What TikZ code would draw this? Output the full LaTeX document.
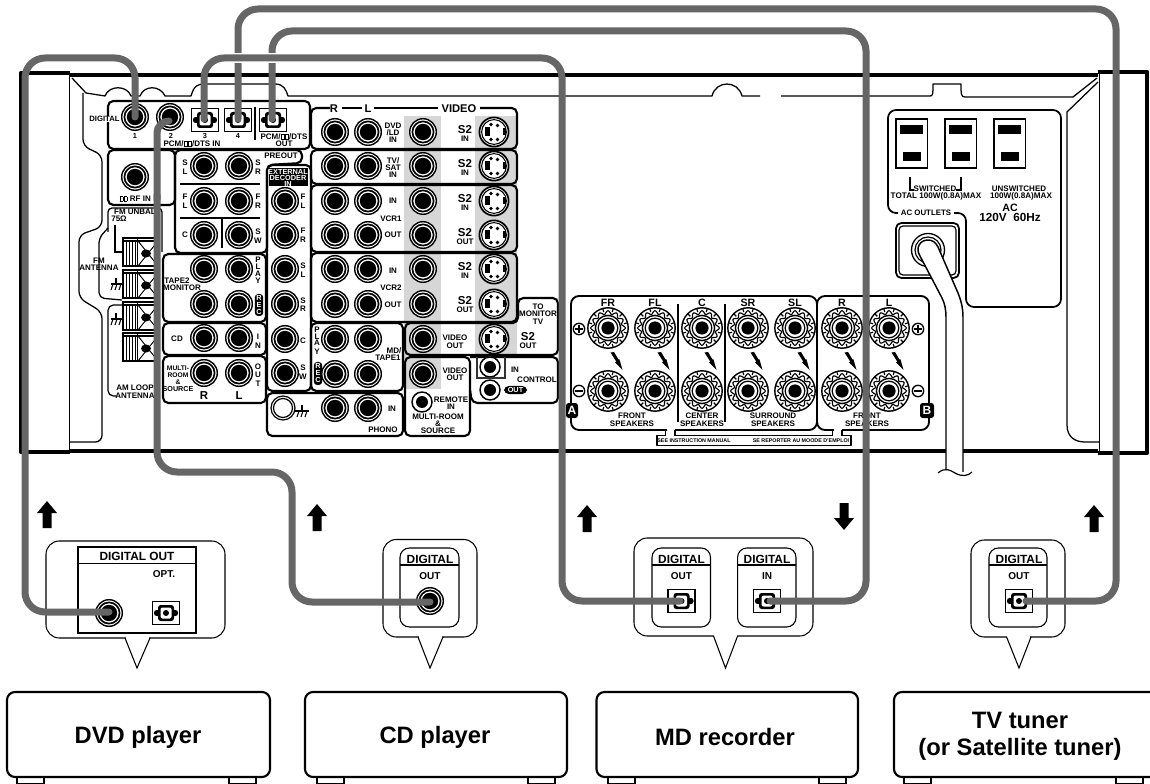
\documentclass[tikz,border=0pt]{standalone}
\usepackage{fontspec}
\setmainfont{Liberation Sans}
\newcounter{tc}
\tikzset{
  lab/.style={inner sep=0pt,outer sep=0pt,anchor=center,text=black},
  pb/.style={draw=black,line width=1.6pt,rounded corners=4pt},
  thin1/.style={draw=black,line width=0.95pt},
  bubble/.style={draw=black,line width=0.8pt,rounded corners=10pt,fill=white},
  inbox/.style={draw=black,line width=0.8pt,rounded corners=7pt,fill=white},
  dev/.style={draw=black,line width=1.6pt,rounded corners=6pt,fill=white},
  cable/.style={draw=cablegray,line width=5.25pt,rounded corners=15pt,line cap=round},
  arr/.style={fill=black,draw=none},
}
\definecolor{cablegray}{HTML}{666666}
\definecolor{bargray}{HTML}{D6D6D6}
% text: optional size in pt
\newcommand{\tx}[4][6]{\stepcounter{tc}\node[lab,font=\fontsize{#1}{#1}\selectfont\bfseries] (t\arabic{tc}) at (#2,#3) {#4};}
\newcommand{\txf}[4][6]{\stepcounter{tc}\node[lab,fill=white,font=\fontsize{#1}{#1}\selectfont\bfseries] (t\arabic{tc}) at (#2,#3) {#4};}
\newcommand{\txw}[4][5.5]{\stepcounter{tc}\node[lab,text=white,font=\fontsize{#1}{#1}\selectfont\bfseries] (t\arabic{tc}) at (#2,#3) {#4};}
\newcommand{\ddb}{\vbox{\hrule height.5pt\hbox{\vrule width.5pt height3.1pt\kern1.7pt\vrule width.5pt}\hrule height.5pt}}
\newcommand{\dd}{\kern.3pt\ddb\kern.4pt\ddb\kern.3pt}
\newcommand{\jk}[2]{\fill[white] (#1,#2) circle[radius=14];
  \draw[line width=1.05pt] (#1,#2) circle[radius=13.3];
  \draw[line width=1.25pt] (#1,#2) circle[radius=10.6];
  \fill[black] (#1,#2) circle[radius=8.2];}
\newcommand{\sjk}[2]{\fill[white] (#1,#2) circle[radius=10.5];
  \draw[line width=1.1pt] (#1,#2) circle[radius=10];
  \fill[black] (#1,#2) circle[radius=6];}
\newcommand{\svid}[2]{\begin{scope}[shift={(#1,#2)}]
  \fill[white] (0,0) circle[radius=15];
  \draw[line width=1.3pt] (0,0) circle[radius=14.6];
  \draw[line width=.8pt] (0,0) circle[radius=12.4];
  \fill (-9,-4.5) rectangle (-4,4.5);
  \fill (9,-3.5) rectangle (12,3.5);
  \foreach \a/\b in {-3/-7.5,3.5/-6.5,-3/7.5,3.5/7.5}{\fill (\a,\b) circle[radius=1.9];}
\end{scope}}
\newcommand{\opt}[3][0]{\begin{scope}[shift={(#2,#3)},rotate=#1]
  \draw[line width=1.1pt,fill=white] (-13.5,-11.5) rectangle (13.5,11.5);
  \fill[rounded corners=2pt] (-8,-8) rectangle (8,8);
  \fill (-9,0) circle[radius=3.2];
  \fill (9,0) circle[radius=3.2];
  \fill[white,rounded corners=1.5pt] (-5.5,-5.5) rectangle (5.5,5.5);
  \fill (0,0) circle[radius=3];
\end{scope}}
\newcommand{\spk}[2]{\begin{scope}[shift={(#1,#2)}]
  \draw[line width=1.05pt,fill=white] (0,0) circle[radius=20.2];
  \draw[line width=.85pt] plot[domain=0:360,samples=97,smooth] (\x:{15.6+1.7*cos(12*\x)});
  \foreach \a in {0,30,...,330}{\draw[line width=.9pt] (\a+15:16.5) -- (\a+15:19.5);}
  \draw[line width=1.05pt,fill=white] (0,0) circle[radius=12.6];
  \draw[line width=.9pt] (0,0) circle[radius=9.8];
  \fill (0,0) circle[radius=6.6];
\end{scope}}
\newcommand{\bolt}[2]{\fill[shift={(#1,#2)}] (-5.5,-8.5)--(-2,-9)--(2.5,-1.5)--(3.5,-1.5)--(6.5,9)--(-1,1.5)--(.2,.5)--cycle;}
\newcommand{\gnd}[2]{\begin{scope}[shift={(#1,#2)},line width=.8pt]
  \draw (0,-5) -- (0,1); \draw (-5,1) -- (7,1);
  \draw (-3,1)--(-5,7); \draw (1,1)--(-1,7); \draw (5,1)--(3,7);
\end{scope}}
\newcommand{\term}[1]{\begin{scope}[shift={(0,#1)}]
  \draw[line width=.9pt,fill=white] (123,-14) rectangle (158,14);
  \foreach \a in {126,129,132,135}{\draw[line width=.7pt] (\a,-11) -- (\a,14);}
  \draw[line width=.9pt] (123,-11) -- (158,-11);
  \draw[line width=1pt] (137.5,-14) -- (137.5,14);
  \draw[line width=.7pt] (138,-11) -- (158,14); \draw[line width=.7pt] (158,-11) -- (138,14);
  \fill (146,1.5) ellipse[x radius=5,y radius=4];
\end{scope}}
\newcommand{\rec}[3]{\fill[rounded corners=2.5pt] (#1-4.2,#2) rectangle (#1+4.2,#3);}
\newcommand{\uparr}[2]{\fill[arr,shift={(#1,#2)}] (0,0)--(10,12)--(4.5,12)--(4.5,27)--(-4.5,27)--(-4.5,12)--(-10,12)--cycle;}
\newcommand{\dnarr}[2]{\fill[arr,shift={(#1,#2)}] (0,27)--(10,15)--(4.5,15)--(4.5,0)--(-4.5,0)--(-4.5,15)--(-10,15)--cycle;}
\begin{document}
\begin{tikzpicture}[x=.75pt,y=-.75pt]
\useasboundingbox (0,0) rectangle (1150,784);
\clip (0,0) rectangle (1150,784);
\fill[white] (0,0) rectangle (1150,784);
% ---------- chassis
\draw[line width=3pt] (70,75.5) -- (1098,75.5);
\draw[line width=3pt] (70,450.5) -- (1098,450.5);
\draw[line width=3.2pt,line join=round] (70,73) -- (21,73) -- (21,452) -- (70,452);
\draw[line width=3.2pt,line join=round] (1098,72) -- (1147,72) -- (1147,453) -- (1098,453);
\draw[line width=.9pt] (69.5,73) -- (69.5,452);
\draw[line width=.9pt] (1099.5,72) -- (1099.5,453);
% inner outline
\draw[thin1,line join=round] (72,78) -- (86,93) -- (105,96) .. controls (109,85) and (127,85) .. (131,96) -- (140,96) .. controls (144,85) and (160,85) .. (165,96) -- (191,96) .. controls (194,86) and (197,84) .. (205,84) -- (275,84) .. controls (284,84) and (286,90) .. (288,96) -- (712,96) .. controls (716,80) and (738,80) .. (742,96) -- (760,96);
\draw[thin1,line join=round] (781,96) -- (930,96) .. controls (933,96) and (933,94) .. (933,84) -- (961,84) .. controls (961,94) and (961,97) .. (965,97) -- (1073,97) -- (1097,78);
\draw[thin1] (1098,82) -- (1067,112) -- (1067,425) .. controls (1067,437) and (1075,442) .. (1085,442) -- (1099,442);
\draw[thin1,rounded corners=5pt] (83,93) -- (83,146) -- (102,155) -- (102,227) -- (79,235) -- (79,298) -- (102,312) -- (102,442) -- (70,442);
% ---------- grey video bars
\fill[bargray] (404,116) rectangle (441,389);
\fill[bargray] (475,116) rectangle (517,355);
% ---------- panel boxes
\draw[pb] (108,149) -- (108,101) -- (310,101) -- (310,149) -- cycle;
\draw[line width=1pt] (255,107) -- (255,140);
\draw[pb] (108,150) rectangle (175,205);
\draw[pb] (175,150) -- (302,150) -- (302,163) -- (267,165) -- (267,253) -- (175,253) -- cycle;
\draw[line width=1.1pt] (180,184) -- (260,184);
\draw[line width=1.1pt] (180,218) -- (260,218);
\draw[line width=1.1pt] (222,218) -- (222,248);
\draw[pb] (267,165) rectangle (311,391);
\draw[pb] (163,254) rectangle (266,322);
\draw[pb] (163,323) rectangle (266,355);
\draw[pb] (163,356) rectangle (266,403);
\draw[pb] (330,108) -- (311,108) -- (311,149) -- (517,149) -- (517,108) -- (480,108);
\draw[line width=1.6pt] (342,108) -- (362,108);
\draw[line width=1.6pt] (374,108) -- (438,108);
\draw[pb] (311,150) rectangle (517,184);
\draw[pb] (311,185) rectangle (517,252);
\draw[pb] (311,253) rectangle (517,322);
\draw[pb] (311,323) rectangle (403,391);
\draw[pb] (267,393) rectangle (403,436);
\draw[pb] (405,323) -- (518,323) -- (518,298) -- (558,298) -- (558,355) -- (405,355) -- cycle;
\draw[pb] (405,357) rectangle (470,436);
\draw[pb] (470,357) -- (558,357) -- (558,403) -- (472,403) -- (470,390);
% FM / AM
\draw[thin1,rounded corners=3pt] (108,232) -- (108,208) -- (162,208) -- (162,252);
\draw[thin1,rounded corners=4pt] (108,228) -- (99,238) -- (99,298) -- (122,300);
\draw[thin1,rounded corners=4pt] (122,305) -- (108,305) -- (108,396) -- (116,396);
\draw[thin1] (115,225) -- (115,252) -- (123,252);
\term{252}\term{284}\term{316}\term{347}
\gnd{116}{283}\gnd{116}{318}
% ---------- jacks
\jk{135}{177}
\jk{135}{117}\jk{170}{117}
\opt{205}{120}\opt{238}{120}\opt{273}{120}
\foreach \a/\b in {204/166,239/166,204/201,239/201,204/235,239/235,204/269,239/269,204/304,239/304,204/338,239/338,204/373,239/373}{\jk{\a}{\b}}
\foreach \b in {201,235,269,304,339,373}{\jk{285}{\b}}
\foreach \b in {132,166,201,235,269,304,339,374,408}{\jk{335}{\b}\jk{368}{\b}}
\foreach \b in {132,166,201,235,269,304,339,374}{\jk{423}{\b}}
\foreach \b in {132,166,201,235,269,304,339}{\svid{494}{\b}}
\sjk{490}{367}\sjk{490}{390}\sjk{422}{402}
\draw[line width=1.4pt,draw=black!80] (477,357) -- (477,378) -- (505,378) -- (505,357);
\fill[white] (283,408) circle[radius=12.5];
\draw[line width=.9pt] (283,408) circle[radius=12]; \draw[line width=.9pt] (283,408) circle[radius=9.5];
\draw[line width=.8pt] (295,411) -- (305,411);
\gnd{302}{410}
% ---------- speakers
\draw[pb,line width=1.4pt,rounded corners=6pt] (571,296) rectangle (817,430);
\draw[pb,line width=1.4pt,rounded corners=6pt] (817,296) rectangle (929,430);
\draw[line width=1pt] (678,304) -- (678,422);
\draw[line width=1pt] (725,304) -- (725,422);
\foreach \a in {608,655,702,748,795,842,889}{\spk{\a}{328}\spk{\a}{391}\bolt{\a+8}{361}}
\foreach \a in {579,918}{
 \draw[line width=1pt] (\a,329) circle[radius=5.7];
 \draw[line width=1.2pt] (\a-4,329) -- (\a+4,329); \draw[line width=1.2pt] (\a,325) -- (\a,333);
 \draw[line width=1pt] (\a,391) circle[radius=5.7];
 \draw[line width=2pt] (\a-4,391) -- (\a+4,391);}
\fill[rounded corners=2pt] (566,403) rectangle (578,418); \txw[9]{572}{410.5}{A}
\fill[rounded corners=2pt] (920,403) rectangle (934,418); \txw[9]{927}{410.5}{B}
\fill[white] (666.5,428) rectangle (674.5,432);
\fill[white] (833.5,428) rectangle (841.5,432);
\draw[line width=1.3pt,line join=round] (665.5,430) -- (665.5,435.5) -- (657,435.5) -- (657,445.5) -- (851,445.5) -- (851,435.5) -- (842,435.5);
\draw[line width=1.3pt] (675,430) -- (675,435.5) -- (832.5,435.5) -- (832.5,430);
\draw[line width=1.3pt] (842,435.5) -- (842,430);
% ---------- AC
\draw[thin1,line width=1.3pt,rounded corners=6pt] (898,213) -- (888,213) -- (888,110) -- (1061,110) -- (1061,307) -- (966,307) -- (966,213) -- (954,213);
\foreach \a in {896,945,994}{
  \draw[line width=1.1pt] (\a,119) rectangle (\a+31.5,168);
  \fill (\a+4,125) rectangle (\a+27,134);
  \fill (\a+6.5,152) rectangle (\a+25,161);}
\draw[line width=1pt] (910,177) -- (910,190) -- (914,190);
\draw[line width=1pt] (956,190) -- (961,190) -- (961,177);
\draw[line width=1.3pt,rounded corners=4pt] (896,223) rectangle (959,278);
\draw[line width=.9pt,rounded corners=3pt] (899,226) rectangle (956,275);
\draw[line width=1pt] (928,250) circle[radius=16.5];
\draw[line width=.9pt] (928,250) circle[radius=13];
\fill[white] (946,318) .. controls (946,310) and (945,304) .. (942,298) -- (920,256) .. controls (915,248) and (920,240) .. (928,240) .. controls (933,240) and (936,243) .. (938,247) -- (958,293) .. controls (962,303) and (963,310) .. (963,318) -- (963,476) -- (946,470) -- cycle;
\draw[line width=1.1pt] (920,256) .. controls (915,248) and (920,240) .. (928,240) .. controls (933,240) and (936,243) .. (938,247) -- (958,293) .. controls (962,303) and (963,310) .. (963,318) -- (963,476);
\draw[line width=1.1pt] (920,256) -- (942,298) .. controls (945,304) and (946,310) .. (946,318) -- (946,470);
\fill[white] (945,472) rectangle (964,480);
\draw[line width=.9pt] (938,473) .. controls (945,467) and (950,470) .. (955,473) .. controls (962,477) and (968,476) .. (972,472);
% ---------- panel texts
\txf[5.8]{104.5}{119}{DIGITAL}
\tx[5.5]{135}{136}{1}\tx[5.5]{171}{136}{2}\tx[5.5]{205}{136}{3}\tx[5.5]{238}{136}{4}
\tx{192}{144}{PCM/\dd/DTS IN}
\tx{284}{137}{PCM/\dd/DTS}\tx{284}{144}{OUT}
\tx{135}{199}{\dd\ RF IN}
\tx{281}{156}{PREOUT}
\fill[black] (269,168) rectangle (308,186);
\txw[5.5]{288}{172}{EXTERNAL}\txw[5.5]{288}{178}{DECODER}\txw[5.5]{288}{184}{IN}
\tx{185}{163}{S}\tx{185}{172}{L}\tx{258}{163}{S}\tx{258}{172}{R}
\tx{185}{197}{F}\tx{185}{206}{L}\tx{258}{197}{F}\tx{258}{206}{R}
\tx{185}{235}{C}\tx{258}{232}{S}\tx{258}{241}{W}
\tx{303}{197}{F}\tx{303}{206}{L}\tx{303}{231}{F}\tx{303}{240}{R}
\tx{303}{266}{S}\tx{303}{275}{L}\tx{303}{301}{S}\tx{303}{309}{R}
\tx{303}{341}{C}\tx{303}{368}{S}\tx{303}{377}{W}
\tx{135}{212}{FM UNBAL}\tx{119}{219}{75Ω}
\tx{99}{261}{FM}\tx{99}{268}{ANTENNA}
\tx{135}{388}{AM LOOP}\tx{135}{396}{ANTENNA}
\tx{177}{281}{TAPE2}\tx{182}{288}{MONITOR}
\tx{258}{259.5}{P}\tx{258}{266.5}{L}\tx{258}{273.5}{A}\tx{258}{281}{Y}
\rec{259}{294}{316}\txw{259}{298}{R}\txw{259}{305}{E}\txw{259}{312}{C}
\tx{177}{339}{CD}\tx{258}{337}{I}\tx{258}{346}{N}
\tx[5]{178}{368}{MULTI-}\tx[5]{178}{375}{ROOM}\tx[5]{178}{382}{\&}\tx[5.4]{178}{389}{SOURCE}
\tx{258}{367}{O}\tx{258}{375}{U}\tx{258}{384}{T}
\tx[8.6]{204}{396}{R}\tx[8.6]{239}{396}{L}
\tx[8.4]{334}{109}{R}\tx[8.4]{368}{109}{L}\tx[8.4]{459}{109}{VIDEO}
\tx{393}{126}{DVD}\tx{393}{133}{/LD}\tx{393}{140}{IN}
\tx{393}{161}{TV/}\tx{393}{168}{SAT}\tx{393}{175}{IN}
\tx{393}{201}{IN}\tx{391}{219}{VCR1}\tx{393}{235}{OUT}
\tx{393}{271}{IN}\tx{391}{288}{VCR2}\tx{393}{305}{OUT}
\foreach \a/\b in {130/IN,164/IN,199/IN,233/OUT,267/IN,301/OUT}{\tx[8.6]{465}{\a}{S2}\tx{465}{\a+9}{\b}}
\tx{317}{330}{P}\tx{317}{336.5}{L}\tx{317}{343}{A}\tx{317}{352}{Y}
\rec{318}{362}{385}\txw{318}{366}{R}\txw{318}{373}{E}\txw{318}{380}{C}
\tx{394}{351}{MD/}\tx{388}{358}{TAPE1}
\tx{455}{338}{VIDEO}\tx{455}{346}{OUT}\tx{455}{371}{VIDEO}\tx{455}{378}{OUT}
\tx[8.6]{528}{337}{S2}\tx{528}{346}{OUT}
\tx{538}{307}{TO}\tx{538}{314}{MONITOR}\tx{538}{322}{TV}
\tx{515}{370}{IN}\tx{537}{380}{CONTROL}
\fill[rounded corners=3.5pt] (504,386) rectangle (527,394); \txw{515.5}{390}{OUT}
\tx{451}{400}{REMOTE}\tx{451}{407}{IN}
\tx{438}{417}{MULTI-ROOM}\tx{438}{424}{\&}\tx{438}{431}{SOURCE}
\tx{392}{409}{IN}\tx{383}{430}{PHONO}
\foreach \a/\b in {608/FR,655/FL,702/C,748/SR,795/SL,842/R,889/L}{\tx[8]{\a}{303}{\b}}
\tx{632}{416}{FRONT}\tx{632}{424}{SPEAKERS}
\tx{702}{416}{CENTER}\tx{702}{424}{SPEAKERS}
\tx{773}{416}{SURROUND}\tx{773}{424}{SPEAKERS}
\tx{867}{416}{FRONT}\tx{867}{424}{SPEAKERS}
\tx[4]{694}{440.5}{SEE INSTRUCTION MANUAL}\tx[4]{801}{440.5}{SE REPORTER AU MOODE D'EMPLOI}
\tx{935}{189}{SWITCHED}\tx[6.1]{936}{196}{TOTAL 100W(0.8A)MAX}
\tx{1019}{189}{UNSWITCHED}\tx[6.1]{1021}{196}{100W(0.8A)MAX}
\tx[5.9]{926}{213}{AC OUTLETS}
\tx[8]{1010}{208}{AC}\tx[8.8]{1010}{217}{120V\ \ 60Hz}
% ---------- call-outs
\draw[bubble] (46,541) rectangle (225,638);
\draw[bubble] (383,539.5) rectangle (477,637);
\draw[bubble] (634,538) rectangle (813,636);
\draw[bubble] (971,540) rectangle (1065,637);
\foreach \a/\b/\c/\d in {125/137/150/638,418/430/443/637,713.5/725.5/737.6/636,1006.6/1019/1031/637}{
  \fill[white] (\a+.6,\d-1) -- (\c-.6,\d-1) -- (\c-.6,\d+1) -- (\a+.6,\d+1) -- cycle;
  \draw[line width=.8pt,line join=miter] (\a,\d) -- (\b,668) -- (\c,\d);}
\draw[line width=.9pt] (78,547) rectangle (196,633);
\draw[line width=.9pt] (78,563.5) -- (196,563.5);
\tx[8.9]{137}{556}{DIGITAL OUT}\tx[7.5]{164}{574}{OPT.}
\jk{109}{613}\opt{166}{613}
\foreach \a/\b/\c/\e in {400/459/430/OUT,652/710.5/681.5/OUT,737.6/796/767/IN,989/1047/1019/OUT}{
  \draw[inbox] (\a,548) rectangle (\b,627);
  \draw[line width=.9pt] (\a,565) -- (\b,565);
  \tx[8.9]{\c}{559}{DIGITAL}\tx[7.5]{\c}{576}{\e}}
\jk{430}{601}
\opt{681.5}{601}
\opt[180]{767}{601}
\opt[180]{1019}{601}
% ---------- devices
\coordinate (dvdout) at (109,612);
\coordinate (cdout) at (430,602);
\coordinate (mdout) at (680,601);
\coordinate (mdin) at (770,601);
\coordinate (tvout) at (1026,601);
\coordinate (jackone) at (135,117);
\coordinate (jacktwo) at (169,121);
\coordinate (jackthree) at (204,119);
\coordinate (jackfour) at (238,119);
\coordinate (jackfive) at (272,119);
\draw[dev] (7,692) rectangle (270,777);
\draw[dev] (305,692) rectangle (567,777);
\draw[dev] (596.5,692) rectangle (858,777);
\draw[dev] (894,692) rectangle (1160,777);
\foreach \a in {17,229,317,528,608,819,904,1116}{\draw[line width=1.1pt] (\a,778) -- (\a,784) -- (\a+27,784) -- (\a+27,778);}
\node[lab,font=\fontsize{17.8}{17.8}\selectfont\bfseries] (dvd) at (138,737) {DVD player};
\node[lab,font=\fontsize{17.8}{17.8}\selectfont\bfseries] (cd) at (435,737) {CD player};
\node[lab,font=\fontsize{17.8}{17.8}\selectfont\bfseries] (md) at (725,737) {MD recorder};
\node[lab,font=\fontsize{17.8}{17.8}\selectfont\bfseries] (tv) at (1020,720) {TV tuner};
\node[lab,font=\fontsize{17.8}{17.8}\selectfont\bfseries] (sat) at (1020,749) {(or Satellite tuner)};
% ---------- arrows
\uparr{47}{501}\uparr{317}{504}\uparr{587}{505}\dnarr{844}{503}\uparr{1094}{505}
% ---------- cables
\draw[cable] (jackfour) -- (238,9) -- (1116,9) -- (1116,601) -- (tvout);
\draw[cable] (jackfive) -- (272,31) -- (866,31) -- (866,601) -- (mdin);
\draw[white,line width=8pt] (230,58) -- (280,58);
\draw[cable] (jackthree) -- (204,58) -- (562,58) -- (562,601) -- (mdout);
\draw[cable] (jackone) -- (135,58) -- (25,58) -- (25,612) -- (dvdout);
\draw[cable,rounded corners=9pt] (jacktwo) -- (157,121) -- (157,200);
\draw[cable] (157,195) -- (157,472) -- (292,472) -- (292,602) -- (cdout);
\end{tikzpicture}
\end{document}
